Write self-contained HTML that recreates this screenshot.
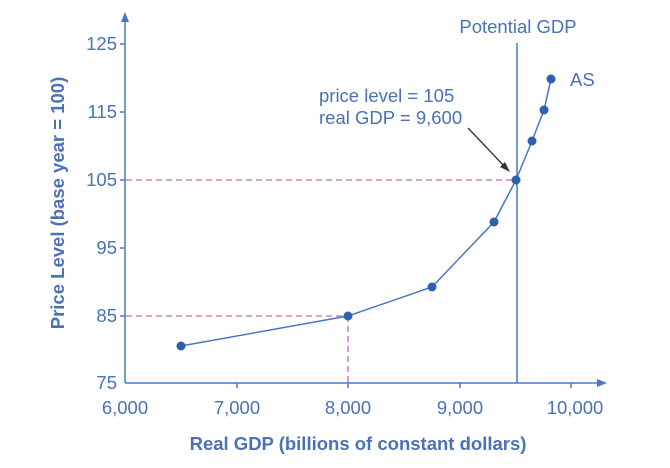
<!DOCTYPE html>
<html><head><style>body{margin:0;background:#fff}</style></head><body>
<svg width="670" height="463" viewBox="0 0 670 463" xmlns="http://www.w3.org/2000/svg" font-family="Liberation Sans, sans-serif">
<g stroke="#c06ab8" stroke-width="1.3" stroke-dasharray="6,4" fill="none">
<line x1="126" y1="180" x2="516" y2="180"/>
<line x1="126" y1="316" x2="348" y2="316"/>
<line x1="348" y1="316" x2="348" y2="383"/>
</g>
<g stroke="#4a78c0" stroke-width="1.5" fill="none">
<line x1="125" y1="383" x2="125" y2="20"/>
<line x1="125" y1="383" x2="600" y2="383"/>
<line x1="517" y1="43" x2="517" y2="383"/>
<polyline points="181,346 348,316 432,287 494,222 516,180 532,141 544,110 551,79"/>
<line x1="120" y1="44" x2="125" y2="44"/><line x1="120" y1="112" x2="125" y2="112"/><line x1="120" y1="180" x2="125" y2="180"/><line x1="120" y1="248" x2="125" y2="248"/><line x1="120" y1="316" x2="125" y2="316"/>
<line x1="237" y1="383" x2="237" y2="388"/><line x1="348" y1="383" x2="348" y2="388"/><line x1="460" y1="383" x2="460" y2="388"/><line x1="571" y1="383" x2="571" y2="388"/>
</g>
<polygon points="125,12 121,22 129,22" fill="#4a78c0"/>
<polygon points="607,383 597,379 597,387" fill="#4a78c0"/>
<g fill="#2f5fad">
<circle cx="181" cy="346" r="4.5"/><circle cx="348" cy="316" r="4.5"/><circle cx="432" cy="287" r="4.5"/><circle cx="494" cy="222" r="4.5"/><circle cx="516" cy="180" r="4.5"/><circle cx="532" cy="141" r="4.5"/><circle cx="544" cy="110" r="4.5"/><circle cx="551" cy="79" r="4.5"/>
</g>
<line x1="468" y1="128" x2="506" y2="168" stroke="#333" stroke-width="1.3"/>
<polygon points="510,172 500,167 505,162" fill="#333"/>
<g fill="#4a72b5" font-size="18.5">
<text x="117" y="50" text-anchor="end">125</text>
<text x="117" y="118" text-anchor="end">115</text>
<text x="117" y="186" text-anchor="end">105</text>
<text x="117" y="254" text-anchor="end">95</text>
<text x="117" y="322" text-anchor="end">85</text>
<text x="117" y="389" text-anchor="end">75</text>
<text x="125" y="414" text-anchor="middle">6,000</text>
<text x="237" y="414" text-anchor="middle">7,000</text>
<text x="348" y="414" text-anchor="middle">8,000</text>
<text x="460" y="414" text-anchor="middle">9,000</text>
<text x="575" y="414" text-anchor="middle">10,000</text>
<text x="518" y="33" text-anchor="middle">Potential GDP</text>
<text x="570" y="86">AS</text>
<text x="319" y="102">price level = 105</text>
<text x="319" y="124">real GDP = 9,600</text>
<text x="358" y="450" text-anchor="middle" font-weight="bold">Real GDP (billions of constant dollars)</text>
<text transform="translate(64,203) rotate(-90)" text-anchor="middle" font-weight="bold">Price Level (base year = 100)</text>
</g>
</svg>
</body></html>
